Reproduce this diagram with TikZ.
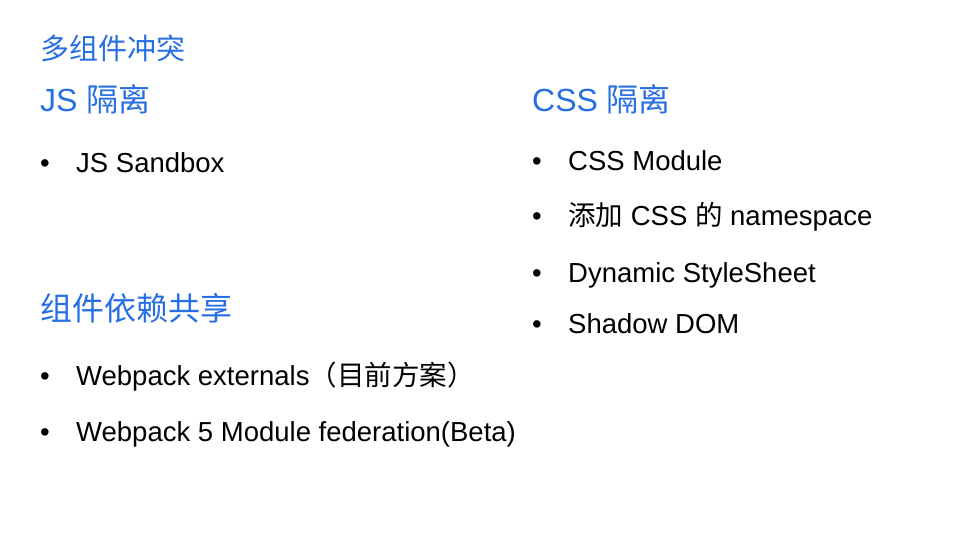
\documentclass[tikz,border=0pt]{standalone}
\usepackage{fontspec}
\setmainfont{Liberation Sans}
\newfontfamily\cjk{Noto Sans CJK SC}
\usetikzlibrary{positioning}
\definecolor{slideblue}{RGB}{38,110,226}
\newcommand{\zh}[1]{{\cjk #1}}
\newcommand{\dotitem}[1]{\makebox[36pt][l]{•}#1}
\begin{document}
\begin{tikzpicture}[x=1pt,y=-1pt,
  title/.style={anchor=base west, inner sep=0pt, text=slideblue, font=\fontsize{29}{32}\selectfont},
  heading/.style={anchor=base west, inner sep=0pt, text=slideblue, font=\fontsize{32}{35}\selectfont},
  item/.style={anchor=base west, inner sep=0pt, font=\fontsize{27.5}{30}\selectfont}]
    \useasboundingbox (0,0) rectangle (960,540);
    % page title
    \node[title] (top) at (40,60) {\zh{多组件冲突}};
    % left column
    \node[heading] (js) at (40,112) {JS \zh{隔离}};
    \node[item] (sandbox) at (40,172) {\dotitem{JS Sandbox}};
    \node[heading] (share) at (40,320) {\zh{组件依赖共享}};
    \node[item] (ext) at (40,385) {\dotitem{Webpack externals\zh{（目前方案）}}};
    \node[item] (fed) at (40,441) {\dotitem{Webpack 5 Module federation(Beta)}};
    % right column
    \node[heading] (css) at (532,112) {CSS \zh{隔离}};
    \node[item] (mod) at (532,171) {\dotitem{CSS Module}};
    \node[item] (ns) at (532,225) {\dotitem{\zh{添加} CSS \zh{的} namespace}};
    \node[item] (dyn) at (532,282) {\dotitem{Dynamic StyleSheet}};
    \node[item] (shadow) at (532,333) {\dotitem{Shadow DOM}};
\end{tikzpicture}
\end{document}
